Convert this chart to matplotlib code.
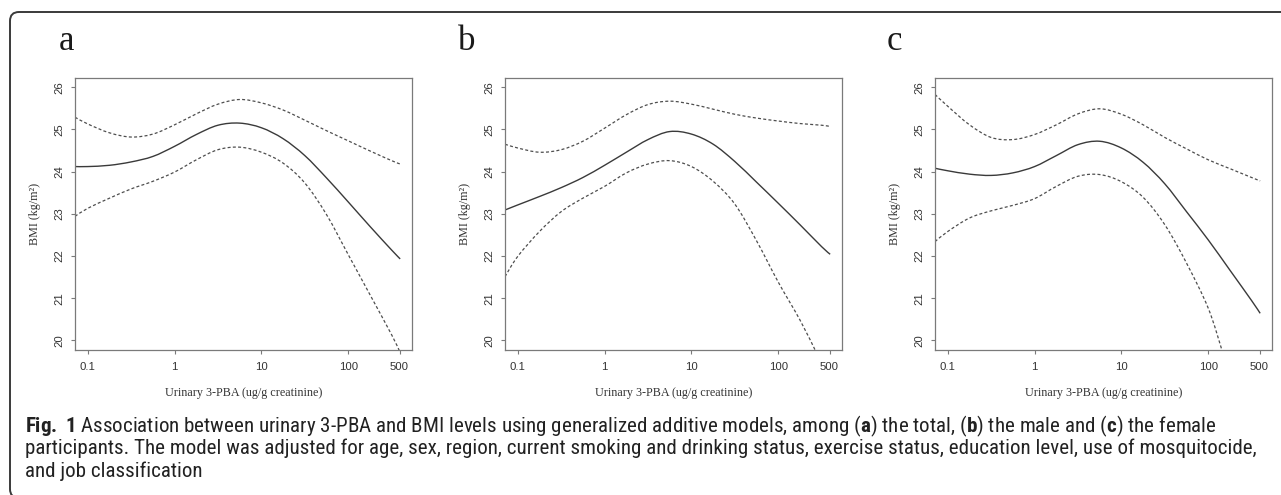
import numpy as np
import matplotlib
matplotlib.use("Agg")
import matplotlib.pyplot as plt
from matplotlib import font_manager
from matplotlib.patches import FancyBboxPatch, PathPatch
from matplotlib.path import Path
from matplotlib.transforms import IdentityTransform

# ---------------- data ----------------
x_grid = [0.0713, 0.1, 0.178, 0.316, 0.562, 1, 1.78, 3.16, 5.62, 10,
          17.8, 31.6, 56.2, 100, 178, 316, 396]

a_fit = [24.12, 24.12, 24.15, 24.23, 24.36, 24.60, 24.88, 25.10, 25.15, 25.04,
         24.78, 24.38, 23.85, 23.28, 22.70, 22.14, 21.93]
a_upper = [25.29, 25.13, 24.92, 24.82, 24.89, 25.11, 25.37, 25.60, 25.71, 25.63,
           25.46, 25.22, 24.97, 24.73, 24.49, 24.26, 24.18]
a_lower_x = [0.0713, 0.1, 0.178, 0.316, 0.562, 1, 1.78, 3.16, 5.62, 10,
             17.8, 31.6, 56.2, 100, 178, 316, 390]
a_lower = [22.94, 23.13, 23.37, 23.59, 23.77, 23.99, 24.28, 24.52, 24.58, 24.46,
           24.20, 23.73, 22.98, 22.03, 21.08, 20.13, 19.74]

b_fit = [23.09, 23.21, 23.41, 23.62, 23.86, 24.15, 24.46, 24.76, 24.95, 24.89,
         24.65, 24.24, 23.75, 23.25, 22.74, 22.22, 22.04]
b_upper = [24.65, 24.56, 24.46, 24.52, 24.72, 25.03, 25.35, 25.59, 25.67, 25.60,
           25.48, 25.36, 25.27, 25.20, 25.14, 25.10, 25.07]
b_lower_x = [0.0713, 0.1, 0.178, 0.316, 0.562, 1, 1.78, 3.16, 5.62, 10,
             17.8, 31.6, 56.2, 100, 178, 270]
b_lower = [21.51, 21.99, 22.58, 23.05, 23.37, 23.65, 23.97, 24.18, 24.26, 24.12,
           23.77, 23.23, 22.36, 21.38, 20.48, 19.74]

c_fit = [24.08, 24.02, 23.94, 23.91, 23.97, 24.12, 24.38, 24.64, 24.72, 24.56,
         24.22, 23.71, 23.05, 22.38, 21.66, 20.94, 20.64]
c_upper = [25.83, 25.55, 25.11, 24.81, 24.76, 24.88, 25.11, 25.37, 25.49, 25.36,
           25.11, 24.81, 24.54, 24.28, 24.07, 23.86, 23.78]
c_lower_x = [0.0713, 0.1, 0.178, 0.316, 0.562, 1, 1.78, 3.16, 5.62, 10,
             17.8, 31.6, 56.2, 100, 145]
c_lower = [22.34, 22.58, 22.90, 23.07, 23.20, 23.36, 23.65, 23.89, 23.93, 23.76,
           23.39, 22.74, 21.83, 20.76, 19.74]

panel_letters = ["a", "b", "c"]
x_tick_vals = [0.1, 1, 10, 100, 390]
x_tick_labels = ["0.1", "1", "10", "100", "500"]
y_ticks = [20, 21, 22, 23, 24, 25, 26]
x_label = "Urinary 3-PBA (ug/g creatinine)"
y_label = "BMI (kg/m²)"

caption_lines = [
    r"$\mathbf{Fig.\ 1}$ Association between urinary 3-PBA and BMI levels using generalized additive models, "
    r"among ($\mathbf{a}$) the total, ($\mathbf{b}$) the male and ($\mathbf{c}$) the female",
    "participants. The model was adjusted for age, sex, region, current smoking and drinking status, "
    "exercise status, education level, use of mosquitocide,",
    "and job classification",
]

# ---------------- fonts ----------------
names = {f.name for f in font_manager.fontManager.ttflist}


def pick(*cands):
    for n in cands:
        if n in names:
            return n
    return "DejaVu Sans"


serif = pick("Liberation Serif", "DejaVu Serif")
sans = pick("Liberation Sans", "DejaVu Sans")
cap_font = pick("Liberation Sans Narrow", "Roboto Condensed", "Open Sans Condensed", "Liberation Sans")

plt.rcParams["font.family"] = [sans, "DejaVu Sans"]
plt.rcParams["mathtext.fontset"] = "custom"
plt.rcParams["mathtext.bf"] = f"{cap_font}:bold"
plt.rcParams["mathtext.rm"] = cap_font
plt.rcParams["mathtext.it"] = f"{cap_font}:italic"

W, H = 1281, 495
fig = plt.figure(figsize=(W / 100, H / 100), dpi=100)


def fx(px):
    return px / W


def fy(py):
    return 1 - py / H


def smooth_curve(ax, xs, ys, **kw):
    """Draw a smooth (Catmull-Rom style) curve through the given points, in log-x space."""
    lx = np.log10(np.asarray(xs, float))
    y = np.asarray(ys, float)
    n = len(lx)
    verts = [(xs[0], ys[0])]
    codes = [Path.MOVETO]
    for i in range(n - 1):
        p0 = i - 1 if i > 0 else i
        p3 = i + 2 if i + 2 < n else i + 1
        c1x = lx[i] + (lx[i + 1] - lx[p0]) / 6
        c1y = y[i] + (y[i + 1] - y[p0]) / 6
        c2x = lx[i + 1] - (lx[p3] - lx[i]) / 6
        c2y = y[i + 1] - (y[p3] - y[i]) / 6
        verts += [(10 ** c1x, c1y), (10 ** c2x, c2y), (xs[i + 1], ys[i + 1])]
        codes += [Path.CURVE4] * 3
    patch = PathPatch(Path(verts, codes), fill=False, transform=ax.transData, **kw)
    ax.add_patch(patch)


ax_lefts = [75, 505, 935]
ax_w = 337
ax_top, ax_bot = 78, 350
letter_x = [59, 458, 887]

panels = [
    (a_fit, a_upper, a_lower_x, a_lower),
    (b_fit, b_upper, b_lower_x, b_lower),
    (c_fit, c_upper, c_lower_x, c_lower),
]

line_col = "#3a3a3a"
dash_col = "#4e4e4e"
spine_col = "#7a7a7a"

for i, (fit, up, lox, lo) in enumerate(panels):
    ax = fig.add_axes([fx(ax_lefts[i]), fy(ax_bot), ax_w / W, (ax_bot - ax_top) / H])
    ax.set_xscale("log")
    smooth_curve(ax, x_grid, fit, ec=line_col, lw=1.0)
    smooth_curve(ax, x_grid, up, ec=dash_col, lw=0.9, ls=(0, (2.4, 1.8)))
    smooth_curve(ax, lox, lo, ec=dash_col, lw=0.9, ls=(0, (2.4, 1.8)))
    ax.set_xlim(0.0713, 542)
    ax.set_ylim(19.77, 26.22)
    ax.set_xticks(x_tick_vals)
    ax.set_xticklabels(x_tick_labels)
    ax.minorticks_off()
    ax.set_yticks(y_ticks)
    ax.set_yticklabels([str(v) for v in y_ticks])
    for s in ax.spines.values():
        s.set_color(spine_col)
        s.set_linewidth(0.9)
    ax.tick_params(axis="both", direction="out", length=3, width=0.8, color=spine_col,
                   labelsize=8.2, labelcolor="#333333")
    ax.tick_params(axis="x", pad=5.5)
    ax.tick_params(axis="y", pad=5.0)
    for lab in ax.get_yticklabels():
        lab.set_rotation(90)
        lab.set_va("center")
        lab.set_ha("right")
    ax.set_xlabel(x_label, fontsize=8.7, family=serif, color="#333333")
    ax.set_ylabel(y_label, fontsize=8.7, family=serif, color="#333333")
    ax.xaxis.set_label_coords(0.5, -(393 - ax_bot) / (ax_bot - ax_top))
    ax.xaxis.label.set_va("center")
    ax.yaxis.set_label_coords(-40 / ax_w, 0.5)
    ax.yaxis.label.set_va("center")
    fig.text(fx(letter_x[i]), fy(50), panel_letters[i], fontsize=25, family=serif,
             ha="left", va="baseline", color="#1a1a1a")

# ---------------- caption ----------------
renderer = fig.canvas.get_renderer()
widths = []
for line in caption_lines[:2]:
    probe = fig.text(0, 0, line, fontsize=13, family=cap_font)
    widths.append(probe.get_window_extent(renderer).width)
    probe.remove()
cap_size = 13 * 1226 / max(widths)
cap_y = [423, 446, 469]
for line, y in zip(caption_lines, cap_y):
    fig.text(fx(25), fy(y), line, fontsize=cap_size, family=cap_font, ha="left",
             va="center_baseline", color="#222222")

# ---------------- frame ----------------
frame = FancyBboxPatch((10, -3), 1400, 483 + 3, boxstyle="round,pad=0,rounding_size=9",
                       transform=IdentityTransform(), fill=False, ec="#3a3a3a", lw=1.4,
                       clip_on=False)
fig.patches.append(frame)

fig.savefig("out.png", dpi=100)
